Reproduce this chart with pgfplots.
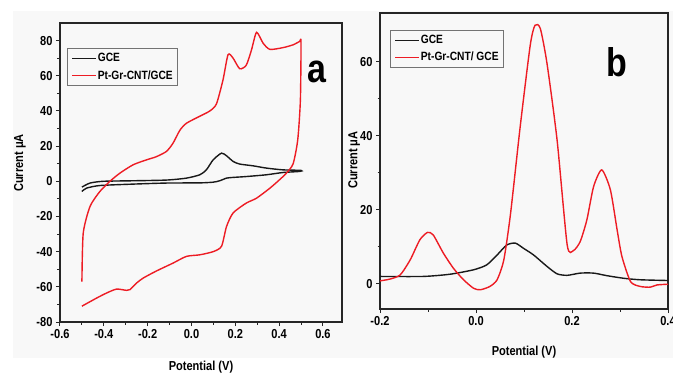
\documentclass[border=0pt]{standalone}
\usepackage{fontspec}
\setmainfont{Liberation Sans}[FakeStretch=0.85]
\usepackage{pgfplots}
\pgfplotsset{compat=1.18}
\definecolor{cvred}{RGB}{237,28,36}
\definecolor{bgg}{RGB}{248,248,248}
\pgfplotsset{
  common/.style={
    scale only axis, axis background/.style={fill=bgg},
    axis line style={line width=1.3pt, black!85},
    tick align=outside, xtick pos=left, ytick pos=left,
    major tick length=4pt, minor tick length=2.5pt,
    every tick/.style={line width=1pt, black!85},
    /pgf/number format/assume math mode=true,
    tick label style={font=\bfseries\fontsize{13}{15}\selectfont},
    label style={font=\bfseries\fontsize{13}{15}\selectfont},
    legend style={font=\bfseries\fontsize{12}{14}\selectfont, draw=black!55, line width=0.9pt, fill=bgg, inner xsep=4pt, inner ysep=4pt, row sep=5pt, nodes={inner sep=1pt}},
    legend cell align=left,
    legend image code/.code={\draw[#1, line width=1.4pt] (0pt,0pt) -- (24pt,0pt);},
  }
}
\begin{document}
\begin{tikzpicture}
\useasboundingbox (0pt,0pt) rectangle (673pt,373pt);
\fill[bgg] (13pt,15pt) rectangle (673pt,362pt);
\begin{axis}[common,
  at={(60pt,51pt)}, anchor=south west, width=282pt, height=299pt,
  xmin=-0.6, xmax=0.687, ymin=-80, ymax=90,
  xtick={-0.6,-0.4,-0.2,0,0.2,0.4,0.6}, ytick={-80,-60,-40,-20,0,20,40,60,80},
  minor x tick num=1, minor y tick num=1,
  xticklabel style={/pgf/number format/.cd, fixed, fixed zerofill, precision=1},
  xlabel={Potential (V)}, ylabel={Current μA},
  xlabel style={at={(axis description cs:0.5,-0.15)}, anchor=center},
  ylabel style={at={(axis description cs:-0.142,0.532)}, anchor=center},
  legend style={at={(axis description cs:0.025,0.916)}, anchor=north west},
]
\addplot[black!90, line width=1.4pt, smooth, tension=0.4] coordinates {
(-0.5,-3.3)(-0.463,-1)(-0.403,0)(-0.266,0.3)(-0.114,0.7)(-0.023,1.8)(0.038,3.7)(0.068,6.5)(0.099,12.2)(0.137,16)(0.16,14.5)(0.19,11.3)(0.22,9.8)(0.281,8.8)(0.342,7.5)(0.418,6.5)(0.5,6.2)
(0.494,5.6)(0.418,5)(0.342,3.7)(0.25,2.7)(0.19,2.2)(0.16,1.8)(0.129,0.3)(0.099,-0.5)(0.038,-0.9)(-0.114,-1)(-0.266,-1.6)(-0.418,-2.4)(-0.479,-3.9)(-0.5,-5.8)};
\addlegendentry{GCE}
\addplot[cvred, line width=1.4pt, smooth, tension=0.4] coordinates {
(-0.5,-57)(-0.494,-29.5)(-0.463,-14.3)(-0.418,-5.8)(-0.372,0)(-0.327,4.6)(-0.266,9.4)(-0.205,12.2)(-0.16,14)(-0.114,17)(-0.084,21.7)(-0.053,29)(-0.023,33)(0.038,37)(0.084,40)(0.114,44)(0.144,57.7)(0.167,72)(0.19,70)(0.22,64)(0.25,66)(0.274,74.7)(0.297,84.7)(0.327,78.5)(0.358,75)(0.418,76)(0.464,77.6)(0.494,79.5)(0.5,79)
(0.497,46)(0.485,23.6)(0.464,10)(0.433,4.6)(0.403,1)(0.358,-3.9)(0.297,-9.6)(0.25,-12.4)(0.19,-18)(0.16,-25.7)(0.137,-37)(0.099,-40)(0.038,-41.8)(-0.023,-42.7)(-0.084,-46.5)(-0.16,-51)(-0.22,-55)(-0.25,-57.8)(-0.281,-61.6)(-0.296,-62)(-0.342,-61.3)(-0.387,-63.5)(-0.433,-66.4)(-0.5,-71)};
\addlegendentry{Pt-Gr-CNT/GCE}
\end{axis}
\begin{axis}[common,
  at={(380pt,64pt)}, anchor=south west, width=288pt, height=296pt,
  xmin=-0.2, xmax=0.4, ymin=-6.8, ymax=73.2,
  xtick={-0.2,0,0.2,0.4}, ytick={0,20,40,60},
  minor x tick num=1, minor y tick num=1,
  xticklabel style={/pgf/number format/.cd, fixed, fixed zerofill, precision=1},
  xlabel={Potential (V)}, ylabel={Current μA},
  xlabel style={at={(axis description cs:0.5,-0.145)}, anchor=center},
  ylabel style={at={(axis description cs:-0.09,0.503)}, anchor=center},
  legend style={at={(axis description cs:0.035,0.943)}, anchor=north west},
]
\addplot[black!90, line width=1.4pt, smooth, tension=0.4] coordinates {
(-0.2,2)(-0.11,2)(-0.054,2.6)(-0.005,3.8)(0.022,5.1)(0.044,7.8)(0.064,10.5)(0.082,11)(0.099,9.6)(0.12,7.8)(0.148,4.7)(0.169,2.7)(0.19,2.3)(0.217,2.9)(0.245,2.9)(0.273,2.2)(0.308,1.5)(0.342,1.1)(0.4,0.9)};
\addlegendentry{GCE}
\addplot[cvred, line width=1.4pt, smooth, tension=0.4] coordinates {
(-0.2,0.8)(-0.179,1.3)(-0.158,2.4)(-0.137,6.5)(-0.117,11.9)(-0.101,13.9)(-0.089,13.2)(-0.068,8.3)(-0.047,4.2)(-0.026,1.1)(-0.005,-1.2)(0.009,-1.6)(0.029,-0.7)(0.044,1.1)(0.058,6.5)(0.072,19)(0.092,42.4)(0.113,64.5)(0.123,69.9)(0.134,69)(0.148,59.5)(0.169,38.8)(0.19,10.5)(0.203,9)(0.217,11.4)(0.231,17.3)(0.245,26.3)(0.262,30.8)(0.28,25.4)(0.294,14.6)(0.304,7.4)(0.322,0.6)(0.342,-0.7)(0.363,-0.9)(0.377,-0.3)(0.4,-0.1)};
\addlegendentry{Pt-Gr-CNT/ GCE}
\end{axis}
\node[font=\bfseries\fontsize{40}{40}\selectfont] at (317pt,301pt) {a};
\node[font=\bfseries\fontsize{40}{40}\selectfont] at (617pt,311pt) {b};
\end{tikzpicture}
\end{document}
